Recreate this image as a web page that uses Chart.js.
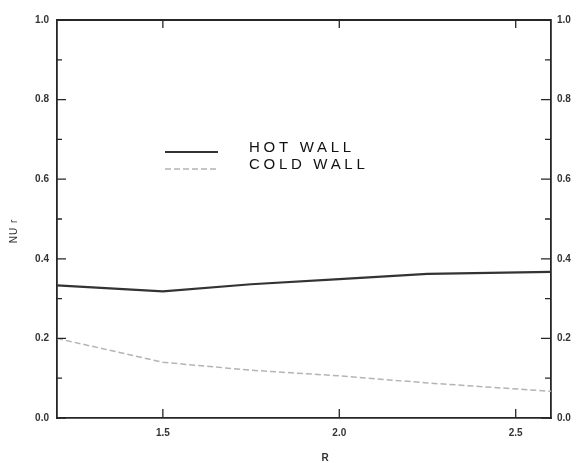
<!DOCTYPE html>
<html>
<head>
<meta charset="utf-8">
<script src="https://cdn.jsdelivr.net/npm/chart.js@4/dist/chart.umd.min.js"></script>
<style>
  html, body { margin: 0; padding: 0; background: #fff; }
  #wrap { width: 584px; height: 463px; position: relative; }
</style>
</head>
<body>
<div id="wrap"><canvas id="c"></canvas></div>
<script>
// Nusselt ratio along the hot and cold walls versus R
const rValues  = [1.2, 1.5, 1.75, 2.0, 2.25, 2.6];
const hotWall  = [0.333, 0.318, 0.336, 0.349, 0.362, 0.367];
const coldWall = [0.200, 0.140, 0.120, 0.106, 0.088, 0.067];
const seriesNames = ['HOT WALL', 'COLD WALL'];
const xTicks = [1.5, 2.0, 2.5];
const yTicks = [0.0, 0.2, 0.4, 0.6, 0.8, 1.0];
const yMinorTicks = [0.1, 0.3, 0.5, 0.7, 0.9];
const xTitle = 'R';
const yTitle = 'NU r';

const FRAME = '#262626';
const tickFont = { family: 'Liberation Sans', size: 10, weight: 'bold' };

const toPoints = (ys) => rValues.map((x, i) => ({ x, y: ys[i] }));

// inward tick marks, closed frame, legend and axis titles
const decorations = {
  id: 'decorations',
  afterDraw(chart) {
    const { ctx, chartArea: a, scales } = chart;
    const x = scales.x, yl = scales.y, yr = scales.y2;
    ctx.save();
    ctx.strokeStyle = FRAME;
    ctx.lineWidth = 1.8;
    // top edge of the frame
    ctx.beginPath();
    ctx.moveTo(a.left, a.top);
    ctx.lineTo(a.right, a.top);
    ctx.stroke();
    ctx.lineWidth = 1.3;
    ctx.beginPath();
    xTicks.forEach(v => {
      const px = x.getPixelForValue(v);
      ctx.moveTo(px, a.bottom); ctx.lineTo(px, a.bottom - 9);
      ctx.moveTo(px, a.top); ctx.lineTo(px, a.top + 8);
    });
    yTicks.forEach(v => {
      const pl = yl.getPixelForValue(v), pr = yr.getPixelForValue(v);
      ctx.moveTo(a.left, pl); ctx.lineTo(a.left + 9, pl);
      ctx.moveTo(a.right, pr); ctx.lineTo(a.right - 10, pr);
    });
    yMinorTicks.forEach(v => {
      const pl = yl.getPixelForValue(v), pr = yr.getPixelForValue(v);
      ctx.moveTo(a.left, pl); ctx.lineTo(a.left + 5, pl);
      ctx.moveTo(a.right, pr); ctx.lineTo(a.right - 6, pr);
    });
    ctx.stroke();

    // legend
    const ds = chart.data.datasets;
    const lx0 = a.left + 108, lx1 = a.left + 161, tx = a.left + 192;
    const rows = [a.top + 131, a.top + 148];
    ds.forEach((d, i) => {
      ctx.save();
      ctx.strokeStyle = d.borderColor;
      ctx.lineWidth = d.borderWidth;
      ctx.setLineDash(d.borderDash || []);
      ctx.beginPath();
      ctx.moveTo(lx0, rows[i] + 1);
      ctx.lineTo(lx1, rows[i] + 1);
      ctx.stroke();
      ctx.restore();
      ctx.fillStyle = '#111';
      ctx.font = '15px "Liberation Sans", Arial, sans-serif';
      ctx.letterSpacing = '3.7px';
      ctx.textBaseline = 'middle';
      ctx.textAlign = 'left';
      ctx.fillText(d.label, tx, rows[i] - 3);
    });
    ctx.letterSpacing = '0px';

    // axis titles
    ctx.fillStyle = '#333';
    ctx.font = 'bold 10px "Liberation Sans", Arial, sans-serif';
    ctx.textAlign = 'center';
    ctx.textBaseline = 'middle';
    ctx.fillText(xTitle, x.getPixelForValue(1.96), a.bottom + 40);
    ctx.translate(14, (a.top + a.bottom) / 2 + 12);
    ctx.rotate(-Math.PI / 2);
    ctx.font = '10px "Liberation Sans", Arial, sans-serif';
    ctx.letterSpacing = '1px';
    ctx.fillText(yTitle, 0, 0);
    ctx.restore();
  }
};

const yScale = (position, width) => ({
  type: 'linear',
  position,
  min: 0,
  max: 1,
  afterBuildTicks: s => { s.ticks = yTicks.map(v => ({ value: v })); },
  afterFit: s => { s.width = width; },
  grid: { display: true, drawOnChartArea: false, drawTicks: false },
  border: { display: true, color: FRAME, width: 1.8 },
  ticks: {
    font: tickFont,
    color: '#333',
    padding: position === 'left' ? 8 : 6,
    callback: v => Number(v).toFixed(1)
  }
});

new Chart(document.getElementById('c'), {
  type: 'line',
  data: {
    datasets: [
      {
        label: seriesNames[0],
        data: toPoints(hotWall),
        borderColor: '#333',
        borderWidth: 2.2,
        pointRadius: 0,
        tension: 0
      },
      {
        label: seriesNames[1],
        data: toPoints(coldWall),
        borderColor: '#b4b4b4',
        borderWidth: 1.5,
        borderDash: [6, 3],
        pointRadius: 0,
        tension: 0
      }
    ]
  },
  options: {
    responsive: true,
    maintainAspectRatio: false,
    animation: false,
    layout: { padding: { top: 20, left: 0, right: 0, bottom: 0 } },
    plugins: { legend: { display: false }, tooltip: { enabled: false } },
    scales: {
      x: {
        type: 'linear',
        min: 1.2,
        max: 2.6,
        afterBuildTicks: s => { s.ticks = xTicks.map(v => ({ value: v })); },
        afterFit: s => { s.height = 45; },
        grid: { display: true, drawOnChartArea: false, drawTicks: false },
        border: { display: true, color: FRAME, width: 1.8 },
        ticks: {
          font: tickFont,
          color: '#333',
          padding: 9,
          maxRotation: 0,
          callback: v => Number(v).toFixed(1)
        }
      },
      y: yScale('left', 57),
      y2: yScale('right', 33)
    }
  },
  plugins: [decorations]
});
</script>
</body>
</html>
